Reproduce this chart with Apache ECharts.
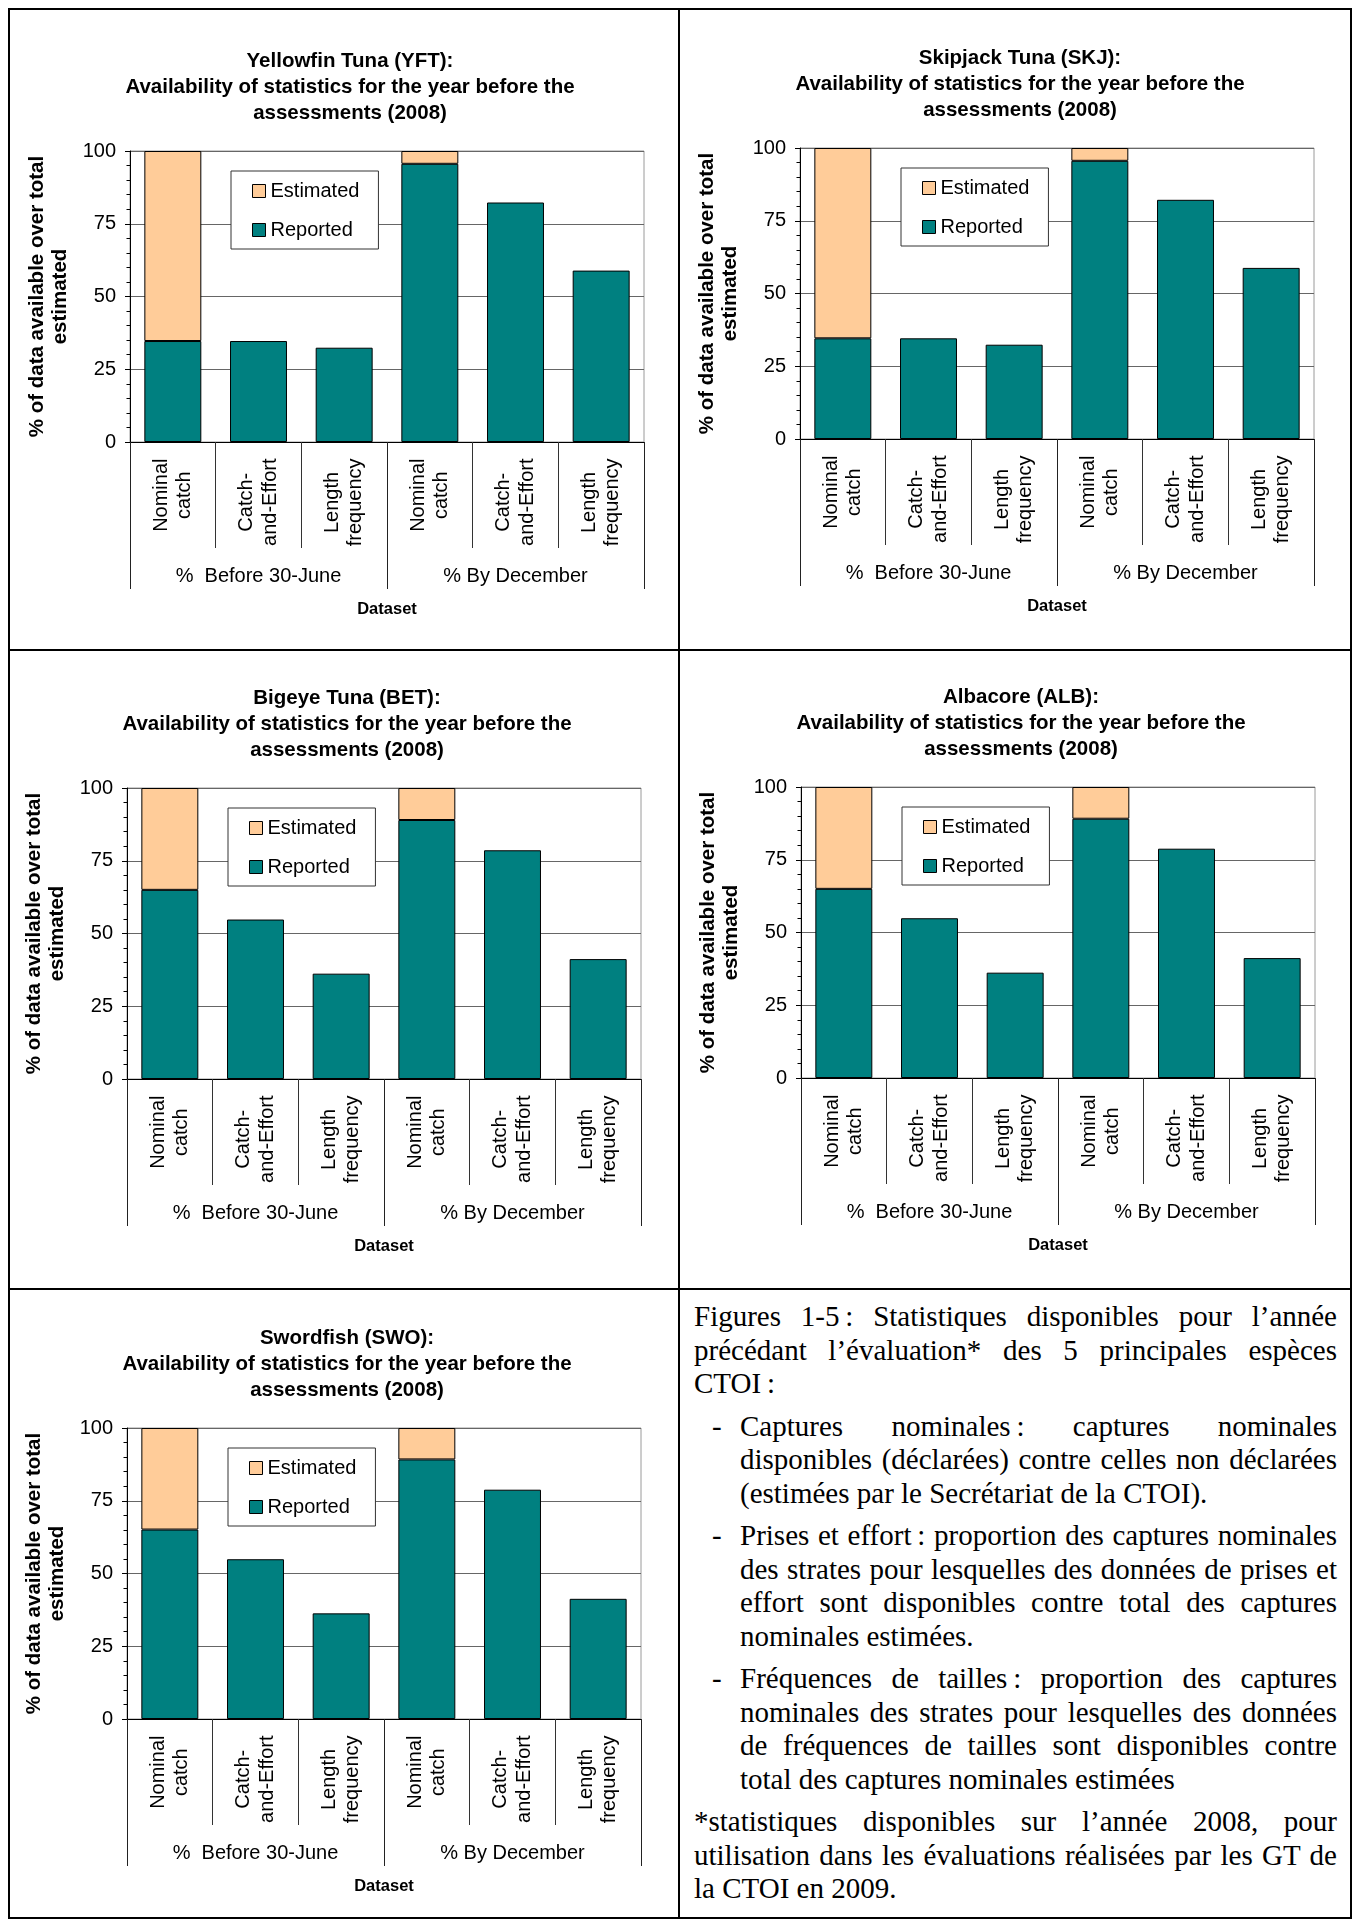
<!DOCTYPE html>
<html>
<head>
<meta charset="utf-8">
<script src="https://cdn.jsdelivr.net/npm/echarts@6/dist/echarts.min.js"></script>
<style>
html,body{margin:0;padding:0;background:#fff;}
body{width:1359px;height:1923px;position:relative;overflow:hidden;}
.ln{position:absolute;background:#000;}
.chart{position:absolute;width:650px;height:630px;}
#txt{position:absolute;left:694px;top:1300px;width:643px;font-family:"Liberation Serif","Times New Roman",serif;font-size:29px;line-height:33.5px;color:#000;}
#txt .l{text-align:justify;text-align-last:justify;}
#txt .e{text-align:left;}
#txt .p{margin-bottom:9px;}
#txt .b{position:relative;margin-left:46px;}
#txt .b .d{position:absolute;left:-28px;top:0;}
</style>
</head>
<body>
<div class="ln" style="left:8px;top:8px;width:1344px;height:2px;"></div>
<div class="ln" style="left:8px;top:1917px;width:1344px;height:2px;"></div>
<div class="ln" style="left:8px;top:8px;width:2px;height:1911px;"></div>
<div class="ln" style="left:1350px;top:8px;width:2px;height:1911px;"></div>
<div class="ln" style="left:678px;top:8px;width:2px;height:1911px;"></div>
<div class="ln" style="left:8px;top:649px;width:1344px;height:2px;"></div>
<div class="ln" style="left:8px;top:1288px;width:1344px;height:2px;"></div>

<div id="c1" class="chart"></div>
<div id="c2" class="chart"></div>
<div id="c3" class="chart"></div>
<div id="c4" class="chart"></div>
<div id="c5" class="chart"></div>

<div id="txt">
  <div class="p">
    <div class="l">Figures 1-5&#8239;: Statistiques disponibles pour l’année</div>
    <div class="l">précédant l’évaluation* des 5 principales espèces</div>
    <div class="e">CTOI&#8239;:</div>
  </div>
  <div class="p b"><span class="d">-</span>
    <div class="l">Captures nominales&#8239;: captures nominales</div>
    <div class="l">disponibles (déclarées) contre celles non déclarées</div>
    <div class="e">(estimées par le Secrétariat de la CTOI).</div>
  </div>
  <div class="p b"><span class="d">-</span>
    <div class="l">Prises et effort&#8239;: proportion des captures nominales</div>
    <div class="l">des strates pour lesquelles des données de prises et</div>
    <div class="l">effort sont disponibles contre total des captures</div>
    <div class="e">nominales estimées.</div>
  </div>
  <div class="p b"><span class="d">-</span>
    <div class="l">Fréquences de tailles&#8239;: proportion des captures</div>
    <div class="l">nominales des strates pour lesquelles des données</div>
    <div class="l">de fréquences de tailles sont disponibles contre</div>
    <div class="e">total des captures nominales estimées</div>
  </div>
  <div class="p">
    <div class="l">*statistiques disponibles sur l’année 2008, pour</div>
    <div class="l">utilisation dans les évaluations réalisées par les GT de</div>
    <div class="e">la CTOI en 2009.</div>
  </div>
</div>

<script>
// ---------- data ----------
const categories = ['Nominal\ncatch', 'Catch-\nand-Effort', 'Length\nfrequency',
                    'Nominal\ncatch', 'Catch-\nand-Effort', 'Length\nfrequency'];
const groups = ['%  Before 30-June', '% By December'];
const seriesNames = ['Reported', 'Estimated'];
const legendOrder = ['Estimated', 'Reported'];
const yMin = 0, yMax = 100, yStep = 25;
const subtitle = 'Availability of statistics for the year before the\nassessments (2008)';
const yAxisTitle = '% of data available over total\nestimated';
const xAxisTitle = 'Dataset';

const speciesTitles = ['Yellowfin Tuna (YFT):', 'Skipjack Tuna (SKJ):', 'Bigeye Tuna (BET):',
                       'Albacore (ALB):', 'Swordfish (SWO):'];

const yftReported  = [34.7, 34.7, 32.4, 95.6, 82.3, 58.9];
const yftEstimated = [65.3, null, null, 4.4, null, null];
const skjReported  = [34.6, 34.6, 32.4, 95.6, 82.2, 58.8];
const skjEstimated = [65.4, null, null, 4.4, null, null];
const betReported  = [65.0, 54.8, 36.2, 89.0, 78.6, 41.2];
const betEstimated = [35.0, null, null, 11.0, null, null];
const albReported  = [65.0, 54.9, 36.2, 89.1, 78.8, 41.2];
const albEstimated = [35.0, null, null, 10.9, null, null];
const swoReported  = [65.1, 54.9, 36.3, 89.2, 78.8, 41.3];
const swoEstimated = [34.9, null, null, 10.8, null, null];

const reportedSets  = [yftReported, skjReported, betReported, albReported, swoReported];
const estimatedSets = [yftEstimated, skjEstimated, betEstimated, albEstimated, swoEstimated];

// ---------- layout ----------
const panelPos = [[8, 10], [678, 7], [5, 647], [679, 646], [5, 1287]];
const FONT = '"Liberation Sans", Arial, Helvetica, sans-serif';

function buildOption(i) {
  return {
    animation: false,
    textStyle: { fontFamily: FONT, color: '#000' },
    title: {
      text: speciesTitles[i] + '\n' + subtitle,
      left: 342, top: 38, textAlign: 'center', padding: 0,
      textStyle: { fontFamily: FONT, fontSize: 20.5, fontWeight: 'bold', lineHeight: 26, color: '#000' }
    },
    legend: {
      data: legendOrder, orient: 'vertical', left: 223, top: 161,
      itemWidth: 13, itemHeight: 13, itemGap: 19,
      padding: [10, 19, 9, 21],
      backgroundColor: '#fff', borderColor: '#333', borderWidth: 1, borderRadius: 0,
      icon: 'rect', selectedMode: false,
      itemStyle: { borderColor: '#000', borderWidth: 1 },
      textStyle: { fontFamily: FONT, fontSize: 20, color: '#000', lineHeight: 20 }
    },
    grid: {
      left: 122, top: 141, width: 514, height: 291,
      show: true, borderColor: '#9a9a9a', borderWidth: 1,
      containLabel: false, outerBoundsMode: 'none'
    },
    xAxis: [
      {
        type: 'category', gridIndex: 0, position: 'bottom', data: categories,
        axisLine: { show: true, lineStyle: { color: '#000', width: 1 } },
        axisTick: { show: true, interval: 0, length: 106, alignWithLabel: false, lineStyle: { color: '#333' } },
        axisLabel: {
          interval: 0, rotate: 90, margin: 16.5, fontFamily: FONT, fontSize: 20, color: '#000',
          formatter: function (v) { return v.split('\n').map(function (s) { return '{c|' + s + '}'; }).join('\n'); },
          rich: { c: { align: 'center', fontFamily: FONT, fontSize: 20, color: '#000', lineHeight: 23.5 } }
        },
        splitLine: { show: false }
      },
      {
        type: 'category', gridIndex: 0, position: 'bottom', data: groups,
        axisLine: { show: false },
        axisTick: { show: true, interval: 0, length: 147, lineStyle: { color: '#222' } },
        axisLabel: { interval: 0, margin: 124, fontFamily: FONT, fontSize: 20, color: '#000' },
        splitLine: { show: false },
        name: xAxisTitle, nameLocation: 'middle', nameGap: 159,
        nameTextStyle: { fontFamily: FONT, fontSize: 16.5, fontWeight: 'bold', color: '#000' }
      }
    ],
    yAxis: {
      type: 'value', min: yMin, max: yMax, interval: yStep,
      axisLine: { show: true, lineStyle: { color: '#000', width: 1 } },
      axisTick: { show: true, length: 5, lineStyle: { color: '#000' } },
      minorTick: { show: true, splitNumber: 5, length: 3.5, lineStyle: { color: '#000' } },
      axisLabel: { margin: 14, fontFamily: FONT, fontSize: 20, color: '#000' },
      splitLine: { show: true, lineStyle: { color: '#666', width: 1 } },
      minorSplitLine: { show: false },
      name: yAxisTitle, nameLocation: 'middle', nameRotate: 90, nameGap: 45,
      nameTextStyle: { fontFamily: FONT, fontSize: 20.5, fontWeight: 'bold', lineHeight: 23, color: '#000', align: 'center' }
    },
    series: [
      {
        name: seriesNames[0], type: 'bar', stack: 'total', xAxisIndex: 0, yAxisIndex: 0,
        data: reportedSets[i], barWidth: '66.5%',
        itemStyle: { color: '#008080', borderColor: '#000', borderWidth: 1 }
      },
      {
        name: seriesNames[1], type: 'bar', stack: 'total', xAxisIndex: 0, yAxisIndex: 0,
        data: estimatedSets[i], barWidth: '66.5%',
        itemStyle: { color: '#FFCC99', borderColor: '#000', borderWidth: 1 }
      }
    ]
  };
}

for (let i = 0; i < 5; i++) {
  const el = document.getElementById('c' + (i + 1));
  el.style.left = panelPos[i][0] + 'px';
  el.style.top = panelPos[i][1] + 'px';
  const chart = echarts.init(el, null, { renderer: 'canvas' });
  chart.setOption(buildOption(i));
}
</script>
</body>
</html>
